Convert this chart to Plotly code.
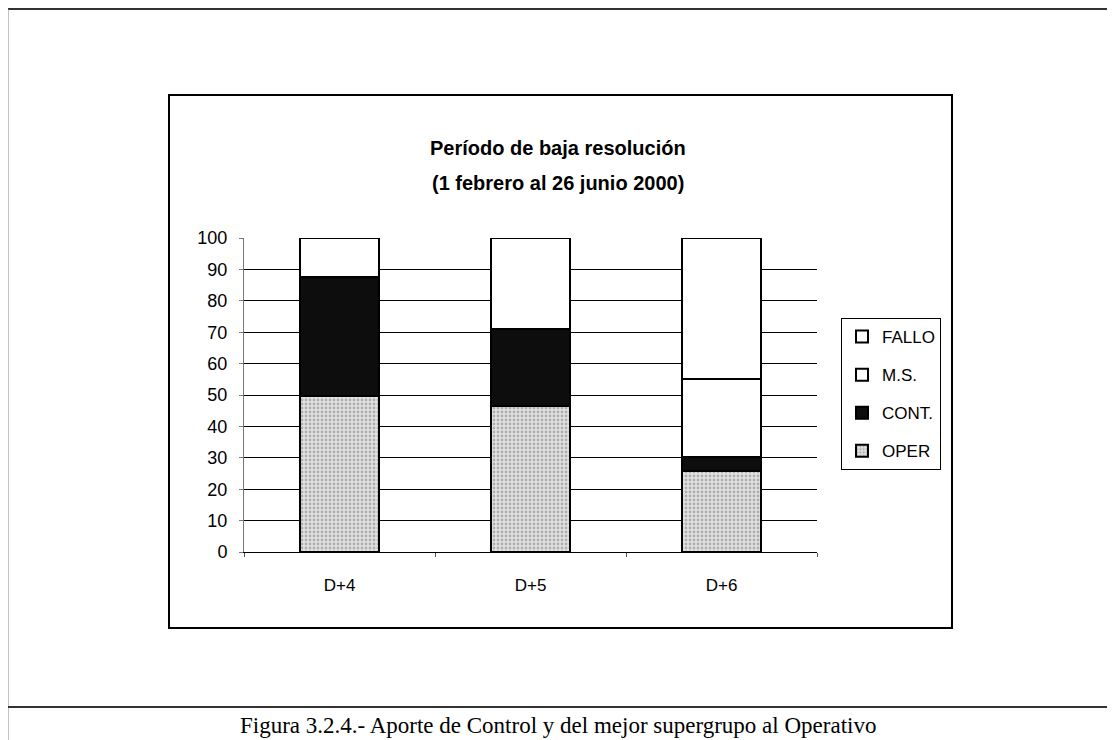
import plotly.graph_objects as go

# data
categories = ["D+4", "D+5", "D+6"]
oper = [49.8, 46.5, 25.7]
cont = [37.8, 24.5, 4.6]
ms = [0, 0, 24.8]
fallo = [12.4, 29.0, 44.9]
y_ticks = [0, 10, 20, 30, 40, 50, 60, 70, 80, 90, 100]

W, H = 1115, 740
OFF = 8  # page body margin of the browser
L, R, T, B = 244 - OFF, 817 - OFF, 238 - OFF, 552 - OFF  # plot area in figure pixels


def px(x):
    return (x - OFF - L) / (R - L)


def py(y):
    return (B - (y - OFF)) / (B - T)


fig = go.Figure()

outline = dict(color="black", width=2)
fig.add_trace(go.Bar(
    x=categories, y=oper, name="OPER", legendrank=4,
    marker=dict(color="#d4d4d4", line=outline,
                pattern=dict(shape=".", fgcolor="#7a7a7a", bgcolor="#e2e2e2",
                             size=4, solidity=0.4)),
    legendgroup="a",
))
fig.add_trace(go.Bar(
    x=categories, y=cont, name="CONT.", legendrank=3,
    marker=dict(color="#0d0d0d", line=outline), legendgroup="b",
))
fig.add_trace(go.Bar(
    x=categories, y=ms, name="M.S.", legendrank=2,
    marker=dict(color="white", line=outline), legendgroup="c",
))
fig.add_trace(go.Bar(
    x=categories, y=fallo, name="FALLO", legendrank=1,
    marker=dict(color="white", line=outline), legendgroup="d",
))

# frames and rules of the scanned page
shapes = [
    dict(type="line", x0=px(8), x1=px(1115), y0=py(9), y1=py(9),
         line=dict(color="#333", width=2)),
    dict(type="line", x0=px(8), x1=px(8), y0=py(9), y1=py(740),
         line=dict(color="#888", width=1)),
    dict(type="line", x0=px(8), x1=px(1115), y0=py(707), y1=py(707),
         line=dict(color="#333", width=2)),
    dict(type="rect", x0=px(169), x1=px(952), y0=py(628), y1=py(95),
         line=dict(color="black", width=2)),
]
for s in shapes:
    s.update(xref="paper", yref="paper", layer="below")

fig.update_layout(
    width=W, height=H,
    margin=dict(l=L, r=W - R, t=T, b=H - B, pad=0),
    paper_bgcolor="white", plot_bgcolor="white",
    barmode="stack", bargap=0.59,
    font=dict(family="Arial, Liberation Sans, sans-serif", color="black", size=17),
    showlegend=True,
    legend=dict(
        x=px(841), y=py(318), xanchor="left", yanchor="top",
        traceorder="grouped", tracegroupgap=13,
        bordercolor="black", borderwidth=1, bgcolor="white",
        font=dict(size=17), itemwidth=30,
    ),
    shapes=shapes,
    annotations=[
        dict(text="<b>Período de baja resolución</b>",
             x=px(558), y=py(148), xref="paper", yref="paper", yanchor="middle",
             showarrow=False, font=dict(size=20)),
        dict(text="<b>(1 febrero al 26 junio 2000)</b>",
             x=px(558), y=py(183), xref="paper", yref="paper", yanchor="middle",
             showarrow=False, font=dict(size=20)),
        dict(text="Figura 3.2.4.- Aporte de Control y del mejor supergrupo al Operativo",
             x=px(558), y=py(740), xref="paper", yref="paper",
             showarrow=False, yanchor="bottom",
             font=dict(family="Liberation Serif, Times New Roman, serif", size=23)),
    ],
)

fig.update_yaxes(
    range=[0, 100], tickvals=y_ticks, showgrid=True, gridcolor="black", gridwidth=1,
    showline=True, linecolor="#777", linewidth=1, ticks="outside", ticklen=4,
    tickcolor="#777", ticklabelstandoff=8, tickfont=dict(size=18),
    zeroline=False, fixedrange=True,
)
fig.update_xaxes(
    showgrid=False, showline=True, linecolor="black", linewidth=1,
    ticks="outside", tickson="boundaries", ticklen=4, tickcolor="#555",
    ticklabelstandoff=18, tickfont=dict(size=17), fixedrange=True,
)

fig.write_html("out.html")
